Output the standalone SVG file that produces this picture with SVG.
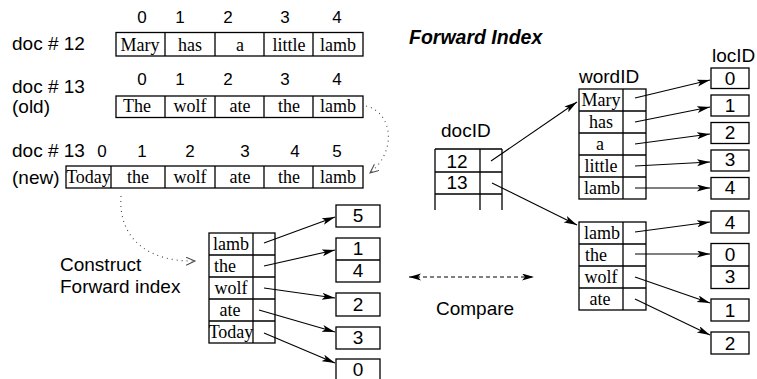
<svg xmlns="http://www.w3.org/2000/svg" width="757" height="379" viewBox="0 0 757 379">
  <style>
    .sans { font-family: "Liberation Sans", Arial, sans-serif; font-size: 19px; fill: #000; }
    .num { font-family: "Liberation Sans", Arial, sans-serif; font-size: 19px; text-anchor: middle; fill: #000; }
    .idx { font-family: "Liberation Sans", Arial, sans-serif; font-size: 17px; text-anchor: middle; fill: #000; }
    .w { font-family: "Liberation Serif", "Times New Roman", serif; font-size: 18px; text-anchor: middle; fill: #000; }
    .wl { font-family: "Liberation Serif", "Times New Roman", serif; font-size: 18px; fill: #000; }
    .title { font-family: "Liberation Sans", Arial, sans-serif; font-size: 19.5px; font-weight: bold; font-style: italic; fill: #000; }
    .box { fill: #fff; stroke: #000; stroke-width: 1.3; }
    .ln { fill: none; stroke: #000; stroke-width: 1.3; }
    .arr { fill: none; stroke: #000; stroke-width: 1.1; marker-end: url(#ah); }
    .dash { fill: none; stroke: #000; stroke-width: 1.1; stroke-dasharray: 4 3; marker-start: url(#ah2); marker-end: url(#ah2); }
    .dot { fill: none; stroke: #444; stroke-width: 1.1; stroke-dasharray: 1 4; }
  </style>
  <defs>
    <marker id="ah" markerUnits="userSpaceOnUse" markerWidth="14" markerHeight="8" refX="13" refY="3.5" orient="auto">
      <path d="M0,0 L13,3.5 L0,7 L3,3.5 Z" fill="#000"/>
    </marker>
    <marker id="ah2" markerUnits="userSpaceOnUse" markerWidth="14" markerHeight="8" refX="12" refY="3.5" orient="auto-start-reverse">
      <path d="M0,0 L12,3.5 L0,7 L3,3.5 Z" fill="#000"/>
    </marker>
    <marker id="open" markerUnits="userSpaceOnUse" markerWidth="12" markerHeight="10" refX="9" refY="4" orient="auto">
      <path d="M0,0 L9,4 L0,8" fill="none" stroke="#444" stroke-width="1"/>
    </marker>
  </defs>

  <!-- document rows -->
  <g id="doc12">
    <text class="sans" x="12" y="50">doc # 12</text>
    <text class="idx" y="23"><tspan x="142">0</tspan><tspan x="180">1</tspan><tspan x="228">2</tspan><tspan x="285">3</tspan><tspan x="337">4</tspan></text>
    <rect class="box" x="116" y="32.5" width="247" height="23.5"/>
    <path class="ln" d="M165,32.5V56M215,32.5V56M264,32.5V56M313,32.5V56"/>
    <text class="w" y="51"><tspan x="140">Mary</tspan><tspan x="190">has</tspan><tspan x="240">a</tspan><tspan x="289">little</tspan><tspan x="338">lamb</tspan></text>
  </g>

  <g id="doc13old">
    <text class="sans" x="12" y="93">doc # 13</text>
    <text class="sans" x="12" y="113">(old)</text>
    <text class="idx" y="85"><tspan x="142">0</tspan><tspan x="180">1</tspan><tspan x="228">2</tspan><tspan x="285">3</tspan><tspan x="337">4</tspan></text>
    <rect class="box" x="116" y="96" width="247" height="21.5"/>
    <path class="ln" d="M165,96V117.5M215,96V117.5M264,96V117.5M313,96V117.5"/>
    <text class="w" y="112"><tspan x="137">The</tspan><tspan x="190">wolf</tspan><tspan x="240">ate</tspan><tspan x="289">the</tspan><tspan x="338">lamb</tspan></text>
  </g>

  <g id="doc13new">
    <text class="sans" x="12" y="157">doc # 13</text>
    <text class="sans" x="12" y="184">(new)</text>
    <text class="idx" y="157"><tspan x="102">0</tspan><tspan x="142">1</tspan><tspan x="190">2</tspan><tspan x="245">3</tspan><tspan x="295">4</tspan><tspan x="337">5</tspan></text>
    <rect class="box" x="66" y="166" width="297" height="22"/>
    <path class="ln" d="M111,166V188M165,166V188M215,166V188M264,166V188M313,166V188"/>
    <text class="w" y="183"><tspan x="88.5">Today</tspan><tspan x="138">the</tspan><tspan x="190">wolf</tspan><tspan x="240">ate</tspan><tspan x="289">the</tspan><tspan x="338">lamb</tspan></text>
  </g>

  <text id="title" class="title" x="409" y="44">Forward Index</text>

  <!-- forward index of the new doc #13 -->
  <g id="newIndex">
    <text class="sans" x="60" y="271">Construct</text>
    <text class="sans" x="60" y="293">Forward index</text>
    <rect class="box" x="209" y="233" width="66" height="110"/>
    <path class="ln" d="M253,233V343M209,255H275M209,277H275M209,299H275M209,321H275"/>
    <text class="w" x="231" y="250">lamb</text>
    <text class="wl" x="214" y="272">the</text>
    <text class="w" x="231" y="294">wolf</text>
    <text class="w" x="230" y="316">ate</text>
    <text class="w" x="231" y="338">Today</text>
  </g>

  <g id="newLocs">
    <rect class="box" x="336" y="205" width="44" height="22"/>
    <rect class="box" x="336" y="238" width="44" height="44"/>
    <path class="ln" d="M336,260H380"/>
    <rect class="box" x="336" y="293" width="44" height="23"/>
    <rect class="box" x="336" y="327" width="44" height="22"/>
    <rect class="box" x="336" y="359" width="44" height="24"/>
    <text class="num" x="358" y="222">5</text>
    <text class="num" x="358" y="255">1</text>
    <text class="num" x="358" y="277">4</text>
    <text class="num" x="358" y="311">2</text>
    <text class="num" x="358" y="344">3</text>
    <text class="num" x="358" y="376">0</text>
  </g>

  <text id="compare" class="sans" x="436" y="315">Compare</text>

  <!-- docID table -->
  <g id="docID">
    <text class="sans" x="441" y="137">docID</text>
    <path class="ln" d="M435,149V210M480,149V210M502,149V210M435,149H502M435,172H502M435,194H502"/>
    <text class="num" x="457" y="168">12</text>
    <text class="num" x="457" y="189">13</text>
  </g>

  <!-- word table of doc #12 -->
  <g id="words12">
    <text class="sans" x="579" y="83">wordID</text>
    <rect class="box" x="579" y="89" width="67" height="110"/>
    <path class="ln" d="M623,89V199M579,111H646M579,133H646M579,155H646M579,177H646"/>
    <text class="w" x="601" y="106">Mary</text>
    <text class="w" x="601" y="128">has</text>
    <text class="w" x="600" y="150">a</text>
    <text class="w" x="601" y="172">little</text>
    <text class="w" x="602" y="194">lamb</text>
  </g>

  <g id="locs12">
    <text class="sans" x="712" y="62">locID</text>
    <rect class="box" x="711" y="68" width="38" height="20.5"/>
    <rect class="box" x="711" y="95" width="38" height="21"/>
    <rect class="box" x="711" y="122.5" width="38" height="21"/>
    <rect class="box" x="711" y="150" width="38" height="21"/>
    <rect class="box" x="711" y="177.5" width="38" height="21.5"/>
    <text class="num" x="730" y="85">0</text>
    <text class="num" x="730" y="112">1</text>
    <text class="num" x="730" y="139">2</text>
    <text class="num" x="730" y="166">3</text>
    <text class="num" x="730" y="194">4</text>
  </g>

  <!-- word table of old doc #13 -->
  <g id="words13">
    <rect class="box" x="579" y="222" width="67" height="88"/>
    <path class="ln" d="M623,222V310M579,244H646M579,266H646M579,288H646"/>
    <text class="w" x="602" y="239">lamb</text>
    <text class="wl" x="585" y="261">the</text>
    <text class="w" x="601" y="283">wolf</text>
    <text class="w" x="600" y="305">ate</text>
  </g>

  <g id="locs13">
    <rect class="box" x="711" y="211" width="38" height="22"/>
    <rect class="box" x="711" y="243.5" width="38" height="45"/>
    <path class="ln" d="M711,266H749"/>
    <rect class="box" x="711" y="299" width="38" height="22"/>
    <rect class="box" x="711" y="332" width="38" height="22"/>
    <text class="num" x="730" y="229">4</text>
    <text class="num" x="730" y="261">0</text>
    <text class="num" x="730" y="283">3</text>
    <text class="num" x="730" y="317">1</text>
    <text class="num" x="730" y="350">2</text>
  </g>

  <!-- connectors -->
  <g id="connectors">
    <path class="arr" d="M491,161L577,102"/>
    <path class="arr" d="M492,183L577,225"/>

    <path class="arr" d="M635,98L710,80"/>
    <path class="arr" d="M635,122L710,107"/>
    <path class="arr" d="M635,144L710,134"/>
    <path class="arr" d="M635,166L710,162"/>
    <path class="arr" d="M635,188L710,188"/>

    <path class="arr" d="M635,232L710,222"/>
    <path class="arr" d="M635,254L710,254"/>
    <path class="arr" d="M635,277L710,303"/>
    <path class="arr" d="M635,299L710,335"/>

    <path class="arr" d="M264,243L335,217"/>
    <path class="arr" d="M264,266L335,250"/>
    <path class="arr" d="M264,288L335,298"/>
    <path class="arr" d="M259,310L335,332"/>
    <path class="arr" d="M264,333L335,363"/>

    <path class="dash" d="M409,277H534"/>

    <path class="dot" marker-end="url(#open)" d="M366,106C392,112 398,150 370,173"/>
    <path class="dot" marker-end="url(#open)" d="M121,196C118,240 150,262 195,261"/>
  </g>
</svg>
